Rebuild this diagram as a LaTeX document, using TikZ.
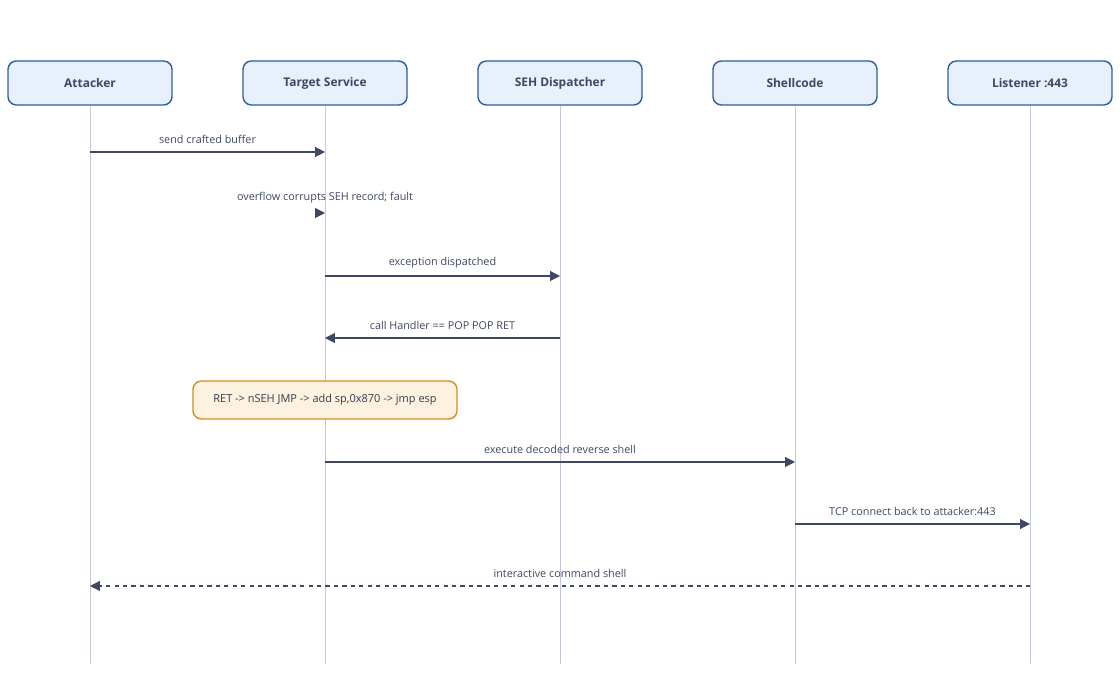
\documentclass[tikz,border=0pt]{standalone}
\usepackage{fontspec}
\setmainfont{Open Sans}
\usetikzlibrary{arrows.meta}
\definecolor{boxfill}{HTML}{E8F0FB}
\definecolor{boxline}{HTML}{2F5E9E}
\definecolor{msgline}{HTML}{3E4763}
\definecolor{lifeln}{HTML}{C4C8D8}
\definecolor{notefill}{HTML}{FDF2E0}
\definecolor{noteline}{HTML}{DB8B1E}
\tikzset{
  actor/.style={draw=boxline, fill=boxfill, line width=1pt, rounded corners=6pt,
    minimum width=4.1cm, minimum height=1.1cm, font=\bfseries\fontsize{8.5}{10}\selectfont, text=msgline},
  life/.style={draw=lifeln, line width=0.6pt},
  msg/.style={draw=msgline, line width=0.8pt, -{Triangle[length=7pt,width=7pt]}},
  lbl/.style={font=\fontsize{7.7}{10}\selectfont, text=msgline},
  note/.style={draw=noteline, fill=notefill, line width=1pt, rounded corners=6pt,
    minimum width=6.6cm, minimum height=0.95cm, font=\fontsize{7.8}{10}\selectfont, text=msgline!80!black}
}
\begin{document}
\begin{tikzpicture}[x=0.025cm,y=-0.025cm]
  \useasboundingbox (0,0) rectangle (1120,688);
  % participants
  \node (att) [actor] at (90,83) {Attacker};
  \node (tgt) [actor] at (325,83) {Target Service};
  \node (seh) [actor] at (560,83) {SEH Dispatcher};
  \node (shc) [actor] at (795,83) {Shellcode};
  \node (lst) [actor] at (1030,83) {Listener :443};
  % lifelines
  \foreach \p in {att,tgt,seh,shc,lst} {
    \coordinate (\p-end) at ([yshift=-558*0.025cm]\p.south);
    \draw [life] (\p.south) -- (\p-end);
  }
  % messages
  \foreach \y/\a/\b/\t in {152/att/tgt/send crafted buffer,
      276/tgt/seh/exception dispatched,
      338/seh/tgt/call Handler == POP POP RET,
      462/tgt/shc/execute decoded reverse shell,
      524/shc/lst/TCP connect back to attacker:443} {
    \coordinate (m1) at (\a |- 0,\y);
    \coordinate (m2) at (\b |- 0,\y);
    \draw [msg] (m1) -- node [lbl, above=2pt] {\t} (m2);
  }
  \coordinate (self1) at (316,213);
  \coordinate (self2) at (tgt |- 0,213);
  \draw [msg] (self1) -- (self2);
  \node [lbl] at (325,198) {overflow corrupts SEH record; fault};
  \coordinate (back1) at (lst |- 0,586);
  \coordinate (back2) at (att |- 0,586);
  \draw [msg, dashed] (back1) -- node [lbl, above=2pt] {interactive command shell} (back2);
  % note
  \node (nt) [note] at (325,400) {RET -> nSEH JMP -> add sp,0x870 -> jmp esp};
\end{tikzpicture}
\end{document}
